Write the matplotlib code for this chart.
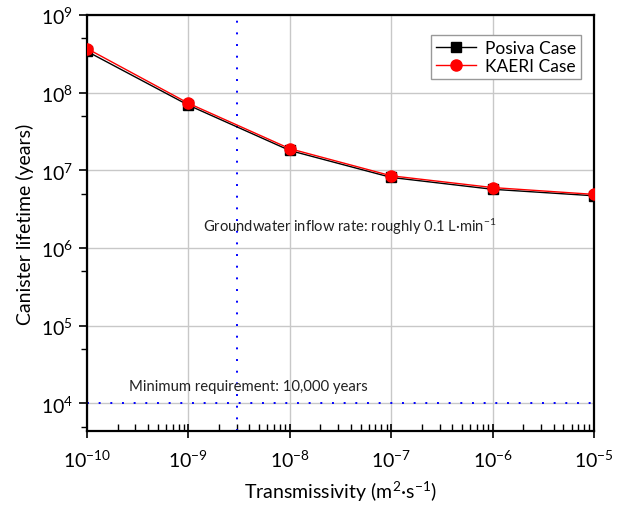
import matplotlib
matplotlib.use("Agg")
import matplotlib.pyplot as plt
from matplotlib.ticker import LogLocator, FixedLocator, NullFormatter

plt.rcParams['font.family'] = ['Lato', 'DejaVu Sans']
plt.rcParams['mathtext.fontset'] = 'custom'
plt.rcParams['mathtext.rm'] = 'Lato'

# transmissivity (m2/s) and canister lifetime (years)
transmissivity = [1e-10, 1e-9, 1e-8, 1e-7, 1e-6, 1e-5]
posiva_life = [3.4e8, 6.9e7, 1.8e7, 8.1e6, 5.7e6, 4.7e6]
kaeri_life = [3.7e8, 7.3e7, 1.9e7, 8.5e6, 6.0e6, 4.9e6]

inflow_T = 3e-9          # ~0.1 L/min inflow
min_requirement = 1e4    # years

fig = plt.figure(figsize=(6.2, 5.1), dpi=100)
ax = fig.add_axes([87/620, 1 - 432/510, (594 - 87)/620, (432 - 16)/510])

ax.plot(transmissivity, posiva_life, '-', color='black', lw=1.0,
        marker='s', ms=7, mfc='black', mec='black', label='Posiva Case', zorder=3)
ax.plot(transmissivity, kaeri_life, '-', color='red', lw=1.0,
        marker='o', ms=8, mfc='red', mec='red', label='KAERI Case', zorder=4)

ax.plot([inflow_T, inflow_T], [4.4e3, 9e8], color='blue', lw=1.4,
        linestyle=(0, (1, 5)), zorder=2)
ax.axhline(min_requirement, color='blue', lw=1.4, linestyle=(0, (1, 5)), zorder=2)

ax.set_xscale('log')
ax.set_yscale('log')
ax.set_xlim(1e-10, 1e-5)
ax.set_ylim(4.4e3, 1e9)

ax.grid(True, which='major', color='#c8c8c8', lw=1.0)
ax.set_axisbelow(True)

ax.xaxis.set_major_locator(FixedLocator(transmissivity))
ax.set_xticklabels([r'$\mathregular{10^{%d}}$' % e for e in range(-10, -4)])
ax.xaxis.set_minor_locator(LogLocator(base=10, subs=range(2, 10), numticks=20))
ax.xaxis.set_minor_formatter(NullFormatter())

yt = [1e4, 1e5, 1e6, 1e7, 1e8, 1e9]
ax.yaxis.set_major_locator(FixedLocator(yt))
ax.set_yticklabels([r'$\mathregular{10^{%d}}$' % e for e in range(4, 10)])
ax.yaxis.set_minor_locator(LogLocator(base=10, subs=[5], numticks=20))
ax.yaxis.set_minor_formatter(NullFormatter())

ax.tick_params(axis='x', which='major', direction='inout', length=10, width=1.2,
               labelsize=14, pad=8)
ax.tick_params(axis='x', which='minor', direction='in', length=5, width=1.0)
ax.tick_params(axis='y', which='major', direction='out', length=6, width=1.2,
               labelsize=14, pad=4)
ax.tick_params(axis='y', which='minor', direction='out', length=4, width=1.0)

for s in ax.spines.values():
    s.set_linewidth(1.6)
    s.set_color('black')

ax.set_xlabel(r'Transmissivity (m$\mathregular{^{2}}$·s$\mathregular{^{-1}}$)',
              fontsize=14)
ax.xaxis.set_label_coords(0.5, -0.115)
ax.set_ylabel('Canister lifetime (years)', fontsize=14)
ax.yaxis.set_label_coords(-0.105, 0.5)

ax.text(1.4e-9, 1.9e6, r'Groundwater inflow rate: roughly 0.1 L·min$\mathregular{^{-1}}$',
        fontsize=10.6, ha='left', va='center', color='#222222')
ax.text(2.6e-10, 1.65e4, 'Minimum requirement: 10,000 years',
        fontsize=10.7, ha='left', va='center', color='#222222')

leg = ax.legend(loc='upper right', bbox_to_anchor=(0.985, 0.965), fontsize=12.5,
                fancybox=False, framealpha=1, edgecolor='#999999',
                handlelength=2.3, borderpad=0.3, labelspacing=0.1,
                handletextpad=0.5, borderaxespad=0.3)
leg.get_frame().set_linewidth(1.0)

fig.savefig('out.png', dpi=100)
